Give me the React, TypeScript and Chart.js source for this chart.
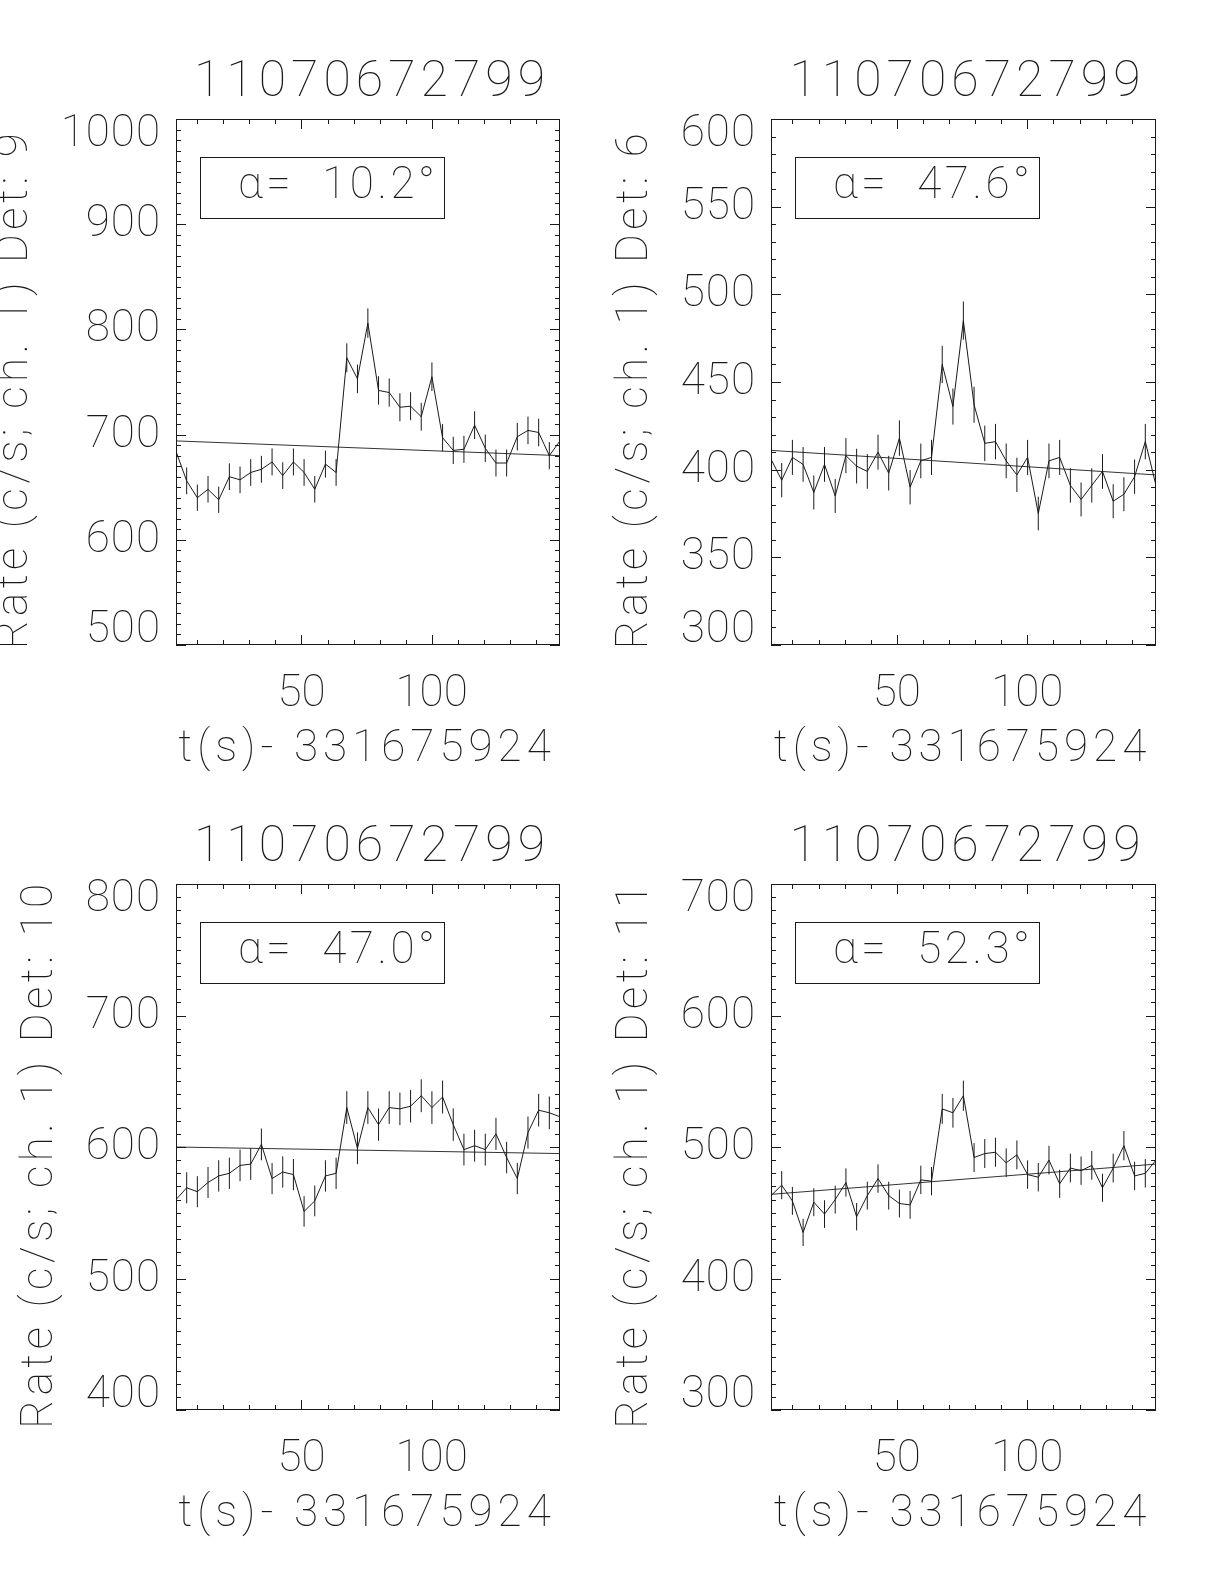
import React, { useEffect, useRef } from 'react';
import { Chart, registerables } from 'chart.js';

Chart.register(...registerables);

// ---------------- data ----------------
const titleText = '11070672799';
const xAxisTitle = 't(s)- 331675924';
const yAxisTitlePrefix = 'Rate (c/s; ch. 1) Det: ';

const timeBins = [
  1.8, 5.9, 10.0, 14.1, 18.2, 22.3, 26.4, 30.5, 34.6, 38.7, 42.8, 46.9, 51.0,
  55.1, 59.2, 63.3, 67.4, 71.5, 75.5, 79.6, 83.7, 87.8, 91.9, 96.0, 100.1,
  104.2, 108.3, 112.4, 116.5, 120.6, 124.7, 128.8, 132.9, 137.0, 141.1, 145.2,
  149.3,
];
const xRange = [1.8, 149.3];
const xTickLabels = [50, 100];
const xMinorTicks = [10, 20, 30, 40, 50, 60, 70, 80, 90, 100, 110, 120, 130, 140];

const det9Rate = [
  684, 656, 640, 648, 638, 660, 657, 664, 667, 674, 661, 674, 664, 648, 672,
  664, 773, 753, 806, 742, 740, 726, 727, 717, 755, 697, 685, 686, 709, 687,
  673, 673, 698, 704, 702, 680, 694,
];
const det9Err = [
  12.9, 12.7, 12.5, 12.6, 12.5, 12.7, 12.7, 12.7, 12.8, 12.8, 12.7, 12.8, 12.7,
  12.6, 12.8, 12.7, 13.7, 13.6, 14.0, 13.5, 13.4, 13.3, 13.3, 13.2, 13.6, 13.0,
  12.9, 12.9, 13.2, 13.0, 12.8, 12.8, 13.1, 13.1, 13.1, 12.9, 13.0,
];
const det9Fit = [694, 680];
const det9YTicks = [500, 600, 700, 800, 900, 1000];

const det6Rate = [
  406, 394, 407, 403, 387, 403, 385, 408, 402, 399, 410, 398, 418, 390, 405,
  407, 460, 436, 485, 437, 415, 416, 405, 397, 407, 375, 405, 407, 391, 383,
  391, 399, 382, 386, 396, 416, 391,
];
const det6Err = [
  10.0, 9.8, 10.0, 9.9, 9.7, 9.9, 9.7, 10.0, 9.9, 9.9, 10.0, 9.9, 10.1, 9.8,
  9.9, 10.0, 10.6, 10.3, 10.9, 10.3, 10.1, 10.1, 9.9, 9.8, 10.0, 9.6, 9.9, 10.0,
  9.8, 9.7, 9.8, 9.9, 9.7, 9.7, 9.8, 10.1, 9.8,
];
const det6Fit = [411, 397];
const det6YTicks = [300, 350, 400, 450, 500, 550, 600];

const det10Rate = [
  560, 569, 566, 573, 578, 580, 586, 587, 602, 576, 581, 579, 551, 559, 578,
  580, 630, 599, 630, 617, 630, 629, 631, 639, 630, 638, 617, 598, 601, 598,
  610, 592, 576, 611, 628, 626, 623,
];
const det10Err = [
  11.7, 11.8, 11.8, 11.8, 11.9, 11.9, 12.0, 12.0, 12.1, 11.9, 11.9, 11.9, 11.6,
  11.7, 11.9, 11.9, 12.4, 12.1, 12.4, 12.3, 12.4, 12.4, 12.4, 12.5, 12.4, 12.5,
  12.3, 12.1, 12.1, 12.1, 12.2, 12.0, 11.9, 12.2, 12.4, 12.4, 12.3,
];
const det10Fit = [600, 595];
const det10YTicks = [400, 500, 600, 700, 800];

const det11Rate = [
  463, 471, 459, 435, 458, 449, 460, 473, 447, 463, 476, 463, 457, 456, 475,
  474, 529, 526, 539, 492, 495, 496, 488, 494, 479, 477, 490, 472, 484, 482,
  486, 469, 484, 501, 478, 480, 490,
];
const det11Err = [
  10.6, 10.7, 10.6, 10.3, 10.6, 10.5, 10.6, 10.7, 10.4, 10.6, 10.8, 10.6, 10.6,
  10.6, 10.8, 10.8, 11.4, 11.3, 11.5, 11.0, 11.0, 11.0, 10.9, 11.0, 10.8, 10.8,
  10.9, 10.7, 10.9, 10.8, 10.9, 10.7, 10.9, 11.1, 10.8, 10.8, 10.9,
];
const det11Fit = [464, 487];
const det11YTicks = [300, 400, 500, 600, 700];

const detectorNames = ['9', '6', '10', '11'];
const alphaValues = ['10.2', '47.6', '47.0', '52.3'];

// ---------------- layout / style ----------------
const PAGE_W = 1224;
const PAGE_H = 1584;
const FONT = 'Roboto, "DejaVu Sans", sans-serif';
const INK = '#1a1a1a';
const TICK_SIZE = 44;

type Panel = {
  det: string;
  alpha: string;
  rate: number[];
  err: number[];
  fit: number[];
  yTicks: number[];
  yMinor: number;
  area: { l: number; t: number; r: number; b: number };
};

const panels: Panel[] = [
  { det: detectorNames[0], alpha: alphaValues[0], rate: det9Rate, err: det9Err, fit: det9Fit, yTicks: det9YTicks, yMinor: 10, area: { l: 176, t: 119, r: 560, b: 645 } },
  { det: detectorNames[1], alpha: alphaValues[1], rate: det6Rate, err: det6Err, fit: det6Fit, yTicks: det6YTicks, yMinor: 10, area: { l: 771, t: 119, r: 1156, b: 645 } },
  { det: detectorNames[2], alpha: alphaValues[2], rate: det10Rate, err: det10Err, fit: det10Fit, yTicks: det10YTicks, yMinor: 10, area: { l: 176, t: 884, r: 560, b: 1410 } },
  { det: detectorNames[3], alpha: alphaValues[3], rate: det11Rate, err: det11Err, fit: det11Fit, yTicks: det11YTicks, yMinor: 10, area: { l: 771, t: 884, r: 1156, b: 1410 } },
];

const Y_AXIS_W = 150;
const X_AXIS_H = 120;

const idlPlugin = {
  id: 'idlPlot',
  afterDatasetsDraw(chart: any, _args: any, opts: any) {
    const p: Panel = opts.panel;
    const { ctx, chartArea: a } = chart;
    const xs = chart.scales.x;
    const ys = chart.scales.y;
    ctx.save();
    // error bars
    ctx.beginPath();
    ctx.rect(a.left, a.top, a.width, a.height);
    ctx.clip();
    ctx.strokeStyle = INK;
    ctx.lineWidth = 1;
    ctx.beginPath();
    timeBins.forEach((t, i) => {
      const px = xs.getPixelForValue(t);
      ctx.moveTo(px, ys.getPixelForValue(p.rate[i] - p.err[i]));
      ctx.lineTo(px, ys.getPixelForValue(p.rate[i] + p.err[i]));
    });
    ctx.stroke();
    ctx.restore();

    ctx.save();
    ctx.strokeStyle = INK;
    ctx.lineWidth = 1;
    // frame
    ctx.strokeRect(a.left + 0.5, a.top + 0.5, a.width - 1, a.height - 1);
    // ticks
    ctx.beginPath();
    const majorLen = 10;
    const minorLen = 5;
    xMinorTicks.forEach((v) => {
      const px = Math.round(xs.getPixelForValue(v)) + 0.5;
      const len = xTickLabels.includes(v) ? majorLen : minorLen;
      ctx.moveTo(px, a.top);
      ctx.lineTo(px, a.top + len);
      ctx.moveTo(px, a.bottom);
      ctx.lineTo(px, a.bottom - len);
    });
    const y0 = p.yTicks[0];
    const y1 = p.yTicks[p.yTicks.length - 1];
    for (let v = y0; v <= y1 + 0.001; v += p.yMinor) {
      const py = Math.round(ys.getPixelForValue(v)) + 0.5;
      const len = p.yTicks.includes(v) ? majorLen : minorLen;
      ctx.moveTo(a.left, py);
      ctx.lineTo(a.left + len, py);
      ctx.moveTo(a.right, py);
      ctx.lineTo(a.right - len, py);
    }
    ctx.stroke();

    // y tick labels (end labels kept inside the axis extent, as in the original)
    ctx.fillStyle = INK;
    ctx.font = `100 ${TICK_SIZE}px ${FONT}`;
    (ctx as any).letterSpacing = '1px';
    ctx.textAlign = 'right';
    ctx.textBaseline = 'middle';
    let maxW = 0;
    ys.ticks.forEach((t: any) => {
      const label = String(t.value);
      maxW = Math.max(maxW, ctx.measureText(label).width);
      let py = ys.getPixelForValue(t.value);
      py = Math.min(Math.max(py, a.top + 15), a.bottom - 15);
      ctx.fillText(label, a.left - 15, py + 1);
    });

    // alpha box
    const bx = a.left + 24;
    const by = a.top + 38;
    const bw = 244;
    const bh = 61;
    ctx.strokeRect(Math.round(bx) + 0.5, Math.round(by) + 0.5, bw, bh);
    ctx.font = `100 44px ${FONT}`;
    (ctx as any).letterSpacing = '3.5px';
    ctx.textAlign = 'left';
    ctx.textBaseline = 'middle';
    ctx.fillText(`α=  ${p.alpha}°`, bx + 38, by + bh / 2 - 1);

    // title
    ctx.font = `100 50px ${FONT}`;
    (ctx as any).letterSpacing = '5px';
    ctx.textAlign = 'center';
    ctx.textBaseline = 'middle';
    ctx.fillText(titleText, (a.left + a.right) / 2 + 4, a.top - 36);

    // x axis title
    ctx.font = `100 ${TICK_SIZE}px ${FONT}`;
    (ctx as any).letterSpacing = '5px';
    ctx.fillText(xAxisTitle, (a.left + a.right) / 2 - 1, a.bottom + 105);

    // y axis title
    (ctx as any).letterSpacing = '4.5px';
    const baseX = a.left - 15 - maxW - 34;
    ctx.translate(baseX, (a.top + a.bottom) / 2 + 7);
    ctx.rotate(-Math.PI / 2);
    ctx.textAlign = 'center';
    ctx.textBaseline = 'alphabetic';
    ctx.fillText(yAxisTitlePrefix + p.det, 0, 0);
    ctx.restore();
  },
};

function PanelChart({ panel }: { panel: Panel }) {
  const ref = useRef<HTMLCanvasElement | null>(null);
  useEffect(() => {
    if (!ref.current) return;
    const a = panel.area;
    const tickFont = { family: FONT, size: TICK_SIZE, weight: '100' as any };
    const chart = new Chart(ref.current, {
      type: 'line',
      data: {
        datasets: [
          {
            data: timeBins.map((t, i) => ({ x: t, y: panel.rate[i] })),
            borderColor: INK,
            borderWidth: 1,
            pointRadius: 0,
            tension: 0,
            fill: false,
          },
          {
            data: [
              { x: xRange[0], y: panel.fit[0] },
              { x: xRange[1], y: panel.fit[1] },
            ],
            borderColor: '#333',
            borderWidth: 1,
            pointRadius: 0,
            tension: 0,
            fill: false,
          },
        ],
      },
      options: {
        animation: false,
        responsive: false,
        maintainAspectRatio: false,
        events: [],
        layout: {
          padding: {
            left: a.l - Y_AXIS_W,
            top: a.t,
            right: PAGE_W - a.r,
            bottom: PAGE_H - a.b - X_AXIS_H,
          },
        },
        plugins: {
          legend: { display: false },
          tooltip: { enabled: false },
          title: { display: false },
          idlPlot: { panel },
        } as any,
        scales: {
          x: {
            type: 'linear',
            min: xRange[0],
            max: xRange[1],
            grid: { display: false, drawTicks: false },
            border: { display: false },
            ticks: {
              font: tickFont,
              color: INK,
              padding: 24,
              maxRotation: 0,
              autoSkip: false,
              callback: (v: any) => String(v),
            },
            afterBuildTicks: (s: any) => {
              s.ticks = xTickLabels.map((v) => ({ value: v }));
            },
            afterFit: (s: any) => {
              s.height = X_AXIS_H;
            },
          },
          y: {
            type: 'linear',
            min: panel.yTicks[0],
            max: panel.yTicks[panel.yTicks.length - 1],
            grid: { display: false, drawTicks: false },
            border: { display: false },
            ticks: {
              display: false,
              font: tickFont,
              color: INK,
              padding: 16,
              autoSkip: false,
            },
            afterBuildTicks: (s: any) => {
              s.ticks = panel.yTicks.map((v) => ({ value: v }));
            },
            afterFit: (s: any) => {
              s.width = Y_AXIS_W;
            },
          },
        },
      },
      plugins: [idlPlugin],
    });
    return () => chart.destroy();
  }, [panel]);
  return (
    <canvas
      ref={ref}
      width={PAGE_W}
      height={PAGE_H}
      style={{ position: 'absolute', left: 0, top: 0, width: PAGE_W, height: PAGE_H }}
    />
  );
}

export default function App() {
  return (
    <div
      style={{
        position: 'absolute',
        left: 0,
        top: 0,
        width: PAGE_W,
        height: PAGE_H,
        background: '#fff',
        overflow: 'hidden',
      }}
    >
      {panels.map((p, i) => (
        <PanelChart key={i} panel={p} />
      ))}
    </div>
  );
}
